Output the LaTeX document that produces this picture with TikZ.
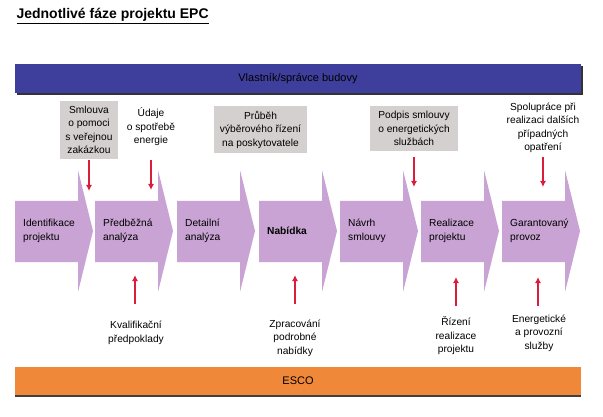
\documentclass[tikz,border=0pt]{standalone}
\usepackage{fontspec}
\setmainfont{Liberation Sans}
\usetikzlibrary{arrows.meta}
\begin{document}
\begin{tikzpicture}[x=1pt,y=-1pt,
  txt/.style={font=\fontsize{10.2}{13.5}\selectfont,align=center,inner sep=1pt},
  gbox/.style={fill=boxgray,minimum width=#1},
  redarr/.style={draw=arrred,line width=2pt,-{Latex[length=6pt,width=6pt]}},
]
\definecolor{boxgray}{HTML}{D4D0CF}
\definecolor{arrred}{HTML}{D81E3C}
\definecolor{lav}{HTML}{C9A3D3}
\definecolor{navy}{HTML}{3E3E9C}
\definecolor{esco}{HTML}{F0883A}
\useasboundingbox (0,0) rectangle (603,417);
\node[anchor=west,font=\bfseries\fontsize{14}{16}\selectfont] (title) at (13,16) {\underline{Jednotlivé fáze projektu EPC}};
% top bar
\fill[black!80] (17,66) rectangle (583,95);
\fill[navy] (15,64) rectangle (581,93);
\node[txt,font=\fontsize{11}{13}\selectfont] (owner) at (298,78.5) {Vlastník/správce budovy};
% ESCO bar
\fill[black!75] (15,369) rectangle (581,397);
\fill[esco] (15,367) rectangle (581,395);
\node[txt,font=\fontsize{11}{13}\selectfont] (esco) at (298,381) {ESCO};
% chevrons
\foreach \s/\n/\t in {15/c1/{Identifikace\\projektu},95/c2/{Předběžná\\analýza},177/c3/{Detailní\\analýza},259/c4/{\textbf{Nabídka}},340/c5/{Návrh\\smlouvy},421/c6/{Realizace\\projektu},502/c7/{Garantovaný\\provoz}}{
  \fill[lav] (\s,201) -- (\s+63,201) -- (\s+63,170) -- (\s+78,231) -- (\s+63,292) -- (\s+63,262) -- (\s,262) -- cycle;
  \node[txt,align=left,anchor=west] (\n) at (\s+7,231) {\t};
}
% top boxes
\node[txt,gbox=58pt,minimum height=58pt] (b1) at (89,130) {Smlouva\\o pomoci\\s veřejnou\\zakázkou};
\node[txt] (b2) at (151,127) {Údaje\\o spotřebě\\energie};
\node[txt,gbox=93pt,minimum height=47pt] (b3) at (260.5,129.5) {Průběh\\výběrového řízení\\na poskytovatele};
\node[txt,gbox=88pt,minimum height=45pt] (b4) at (414,128.5) {Podpis smlouvy\\o energetických\\službách};
\node[txt] (b5) at (543,128) {Spolupráce při\\realizaci dalších\\případných\\opatření};
\coordinate (d1a) at (89,160); \coordinate (d1b) at (89,191);
\coordinate (d2a) at (151,160); \coordinate (d2b) at (151,190);
\coordinate (d4a) at (414,157); \coordinate (d4b) at (414,187);
\coordinate (d5a) at (543,157); \coordinate (d5b) at (543,187);
\foreach \a in {1,2,4,5} \draw[redarr] (d\a a) -- (d\a b);
% bottom texts
\node[txt] (u2) at (136,333) {Kvalifikační\\předpoklady};
\node[txt] (u4) at (295,338) {Zpracování\\podrobné\\nabídky};
\node[txt] (u6) at (456,336) {Řízení\\realizace\\projektu};
\node[txt] (u7) at (539,333) {Energetické\\a provozní\\služby};
\coordinate (e2a) at (135,304); \coordinate (e2b) at (135,275);
\coordinate (e4a) at (295,304); \coordinate (e4b) at (295,275);
\coordinate (e6a) at (456,306); \coordinate (e6b) at (456,277);
\coordinate (e7a) at (538,306); \coordinate (e7b) at (538,277);
\foreach \a in {2,4,6,7} \draw[redarr] (e\a a) -- (e\a b);
\end{tikzpicture}
\end{document}
